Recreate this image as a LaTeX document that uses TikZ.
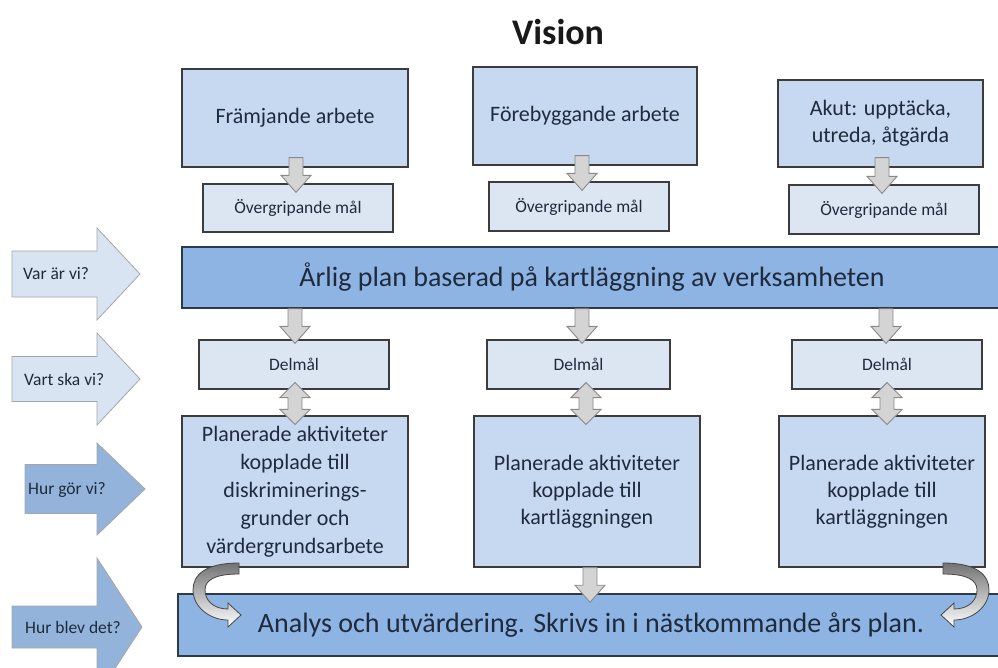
\documentclass[tikz,border=0pt]{standalone}
\usepackage{fontspec}
\setmainfont{Carlito}
\usetikzlibrary{calc}
\definecolor{boxfill}{HTML}{C6D9F1}
\definecolor{smallfill}{HTML}{DCE6F2}
\definecolor{barfill}{HTML}{8EB4E3}
\definecolor{sidelight}{HTML}{D9E4F2}
\definecolor{sidedark}{HTML}{93B3DA}
\definecolor{txt}{HTML}{1F2B3D}
\definecolor{edge}{HTML}{3C3C3C}
\definecolor{baredge}{HTML}{2E3A4A}
\definecolor{gfill}{HTML}{D4D4D4}
\definecolor{gedge}{HTML}{8A8A8A}

\newcommand{\myfs}[2]{\fontsize{#1}{#2}\selectfont}

% style, x1, y1, x2, y2, name, text
\newcommand{\mkbox}[7]{\node[#1, minimum width=(#4-#2)*1pt, minimum height=(#5-#3)*1pt] (#6) at ({(#2+#4)/2},{(#3+#5)/2}) {#7};}

% x, from node, to node, top overlap, bottom overlap
\newcommand{\gdown}[5]{%
  \filldraw[garrow] let \p1=(#2.south), \p2=(#3.north) in
    (#1pt-7pt,\y1+#4pt) -- (#1pt+7pt,\y1+#4pt) -- (#1pt+7pt,\y2-#5pt+17pt) -- (#1pt+15pt,\y2-#5pt+17pt)
    -- (#1pt,\y2-#5pt) -- (#1pt-15pt,\y2-#5pt+17pt) -- (#1pt-7pt,\y2-#5pt+17pt) -- cycle;}

\newcommand{\gdouble}[5]{%
  \filldraw[garrow] let \p1=(#2.south), \p2=(#3.north) in
    (#1pt,\y1+#4pt) -- (#1pt+15pt,\y1+#4pt-15pt) -- (#1pt+7pt,\y1+#4pt-15pt) -- (#1pt+7pt,\y2-#5pt+15pt)
    -- (#1pt+15pt,\y2-#5pt+15pt) -- (#1pt,\y2-#5pt) -- (#1pt-15pt,\y2-#5pt+15pt) -- (#1pt-7pt,\y2-#5pt+15pt)
    -- (#1pt-7pt,\y1+#4pt-15pt) -- (#1pt-15pt,\y1+#4pt-15pt) -- cycle;}

% style, x0, yc, shafthalf, headhalf, xhead, xtip
\newcommand{\sidearr}[7]{%
  \filldraw[sidearrow, #1] (#2,#3-#4) -- (#6,#3-#4) -- (#6,#3-#5) -- (#7,#3) -- (#6,#3+#5) -- (#6,#3+#4) -- (#2,#3+#4) -- cycle;}

\tikzset{
  basebox/.style={rectangle, draw=edge, line width=1.2pt, text=txt, align=center, inner sep=2pt},
  bigbox/.style={basebox, fill=boxfill, font=\myfs{22}{27}},
  goalbox/.style={basebox, fill=smallfill, font=\myfs{17.5}{20}},
  delbox/.style={basebox, fill=smallfill, font=\myfs{17.5}{20}},
  barbox/.style={basebox, fill=barfill, draw=baredge, line width=1.5pt, font=\myfs{28}{32}},
  garrow/.style={fill=gfill, draw=gedge, line width=0.9pt, line join=miter},
  sidearrow/.style={draw=gray!70, line width=0.8pt},
  sidelabel/.style={text=txt, font=\myfs{17.5}{20}, anchor=west, inner sep=0pt},
  curvearrow/.style={draw=gray!55!black, line width=0.8pt, top color=black!55, middle color=black!12, bottom color=white},
}

\begin{document}
\begin{tikzpicture}[x=1pt, y=-1pt]
\useasboundingbox (0,0) rectangle (998,667);
\fill[white] (0,0) rectangle (998,667);
\clip (0,0) rectangle (998,667);

\node[font=\bfseries\myfs{36}{40}, text=black!90, anchor=base] (vision) at (558,44) {Vision};

\mkbox{bigbox}{182}{69}{408}{167}{b1}{Främjande arbete}
\mkbox{bigbox}{473}{67}{697}{165}{b2}{Förebyggande arbete}
\mkbox{bigbox}{778}{80}{983}{167}{b3}{Akut: upptäcka,\\ utreda, åtgärda}

\mkbox{goalbox}{203}{184}{393}{232}{o1}{Övergripande mål}
\mkbox{goalbox}{489}{182}{669}{231}{o2}{Övergripande mål}
\mkbox{goalbox}{789}{185}{979}{234}{o3}{Övergripande mål}

\mkbox{barbox}{182}{247}{1002}{308}{plan}{Årlig plan baserad på kartläggning av verksamheten}

\mkbox{delbox}{199}{340}{389}{389}{d1}{Delmål}
\mkbox{delbox}{487}{340}{670}{389}{d2}{Delmål}
\mkbox{delbox}{792}{340}{982}{389}{d3}{Delmål}

\mkbox{bigbox, font=\myfs{22}{28}}{182}{416}{408}{567}{p1}{Planerade aktiviteter\\ kopplade till\\ diskriminerings-\\ grunder och\\ värdergrundsarbete}
\mkbox{bigbox}{474}{416}{700}{567}{p2}{Planerade aktiviteter\\ kopplade till\\ kartläggningen}
\mkbox{bigbox}{779}{416}{985}{567}{p3}{Planerade aktiviteter\\ kopplade till\\ kartläggningen}

\mkbox{barbox}{178}{594}{1004}{656}{eval}{Analys och utvärdering. Skrivs in i nästkommande års plan.}

% gray block arrows
\gdown{296}{b1}{o1}{10}{9}
\gdown{582}{b2}{o2}{10}{9}
\gdown{882}{b3}{o3}{10}{9}
\gdown{295}{plan}{d1}{0}{4}
\gdown{582}{plan}{d2}{0}{4}
\gdown{886}{plan}{d3}{0}{4}
\gdouble{295}{d1}{p1}{7}{9}
\gdouble{586}{d2}{p2}{7}{9}
\gdouble{887}{d3}{p3}{7}{9}
\gdown{590}{p2}{eval}{0}{9}

% left side arrows
\sidearr{fill=sidelight}{12}{274}{23}{46}{97}{140}
\node[sidelabel] (q1) at (23,274) {Var är vi?};
\sidearr{fill=sidelight}{12}{379}{22.5}{46}{97}{140}
\node[sidelabel] (q2) at (24,379) {Vart ska vi?};
\sidearr{fill=sidedark}{25}{489}{24.5}{46}{97}{145}
\node[sidelabel] (q3) at (28,490) {Hur gör vi?};
\sidearr{fill=sidedark}{12}{627}{21}{69}{97}{142}
\node[sidelabel] (q4) at (25,627) {Hur blev det?};

% curved arrows
\path[curvearrow] (239,563) .. controls (205,563) and (193,575) .. (193,590)
  .. controls (193,607) and (210,620) .. (228,620) -- (228,627) -- (241,615) -- (228,603) -- (228,609)
  .. controls (213,609) and (205,600) .. (205,590) .. controls (205,580) and (215,574) .. (239,574) -- cycle;
\begin{scope}[xshift=1182pt, xscale=-1]
\path[curvearrow] (239,563) .. controls (205,563) and (193,575) .. (193,590)
  .. controls (193,607) and (210,620) .. (228,620) -- (228,627) -- (241,615) -- (228,603) -- (228,609)
  .. controls (213,609) and (205,600) .. (205,590) .. controls (205,580) and (215,574) .. (239,574) -- cycle;
\end{scope}
\end{tikzpicture}
\end{document}
